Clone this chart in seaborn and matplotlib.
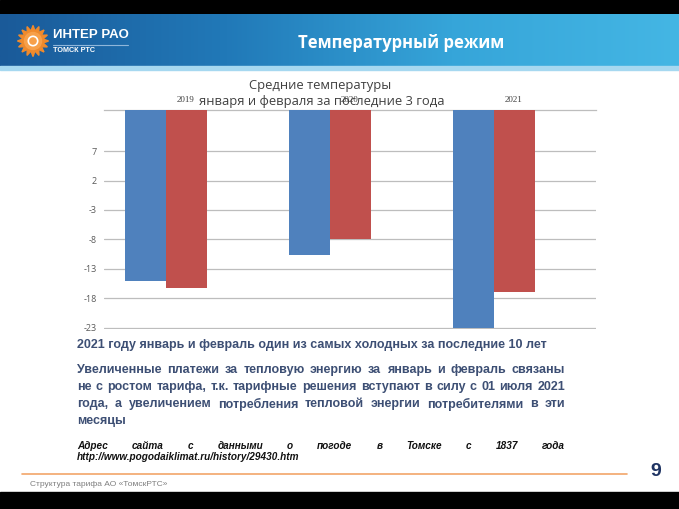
import numpy as np
import pandas as pd
import matplotlib
matplotlib.use("Agg")
import matplotlib.pyplot as plt
from matplotlib.patches import Rectangle, Polygon, Circle
from matplotlib.lines import Line2D
from matplotlib.colors import LinearSegmentedColormap
import seaborn as sns

# ---------------- data ----------------
years = ["2019", "2020", "2021"]
months = ["Январь", "Февраль"]
empty_series = "Ряд 3"          # empty third series of the original chart (reserves a slot)
jan_temps = [-15.1, -10.6, -23.0]
feb_temps = [-16.3, -7.9, -17.0]
y_ticks = [-23, -18, -13, -8, -3, 2, 7]
axis_top = 14.0  # value where the category axis crosses (bars hang from it)

header_title = "Температурный режим"
chart_title = ["Средние температуры", "января и февраля за последние 3 года"]
note_line = "2021 году январь и февраль один из самых холодных за последние 10 лет"
para_lines = [
    "Увеличенные платежи за тепловую энергию за январь и февраль связаны",
    "не с ростом тарифа, т.к. тарифные решения вступают в силу с 01 июля 2021",
    "года, а увеличением потребления тепловой энергии потребителями в эти",
    "месяцы",
]
src_lines = [
    "Адрес сайта с данными о погоде в Томске с 1837 года",
    "http://www.pogodaiklimat.ru/history/29430.htm",
]
footer_text = "Структура тарифа АО «ТомскРТС»"
page_no = "9"

# ---------------- setup ----------------
sns.set_style("white")
plt.rcParams["font.family"] = ["Liberation Sans", "DejaVu Sans"]

W, H = 679, 509
fig = plt.figure(figsize=(W / 100, H / 100), dpi=100)
fig.patch.set_facecolor("white")


def fx(px):
    return px / W


def fy(py):
    return 1 - py / H


# black bars top / bottom
fig.add_artist(Rectangle((0, fy(14)), 1, 14 / H, transform=fig.transFigure,
                         color="black", zorder=0))
fig.add_artist(Rectangle((0, 0), 1, 17 / H, transform=fig.transFigure,
                         color="black", zorder=0))

# header gradient
ax_h = fig.add_axes([0, fy(66), 1, (66 - 14) / H])
cmap = LinearSegmentedColormap.from_list("hdr", ["#1a5a99", "#2179b8", "#36a5d9", "#44b6e4"])
ax_h.imshow(np.linspace(0, 1, 256)[None, :], aspect="auto", cmap=cmap,
            extent=[0, 1, 0, 1])
ax_h.set_axis_off()
fig.add_artist(Rectangle((0, fy(70)), 1, 4 / H, transform=fig.transFigure,
                         color="#a6d8f0", zorder=1))

# logo
ax_l = fig.add_axes([fx(16), fy(59), fx(34), 36 / H])
ax_l.set_xlim(-1.2, 1.2)
ax_l.set_ylim(-1.2, 1.2)
ax_l.set_aspect("equal")
ax_l.set_axis_off()
ang = np.linspace(0, 2 * np.pi, 33)[:-1]
rad = np.where(np.arange(32) % 2 == 0, 1.1, 0.72)
ax_l.add_patch(Polygon(np.c_[rad * np.cos(ang), rad * np.sin(ang)], closed=True,
                       color="#f08a2c"))
ax_l.add_patch(Circle((0, 0), 0.6, color="#f7a04a"))
ax_l.add_patch(Circle((0, 0), 0.33, fill=False, ec="white", lw=1.2))
fig.text(fx(53), fy(35), "ИНТЕР РАО", color="white", fontsize=9.5,
         fontweight="bold", va="center", ha="left")
fig.add_artist(Line2D([fx(53), fx(128)], [fy(45), fy(45)], transform=fig.transFigure,
                      color="#8fb6da", lw=0.8))
fig.text(fx(53), fy(51), "ТОМСК РТС", color="white", fontsize=5.2,
         fontweight="bold", va="center", ha="left")

fig.text(fx(401), fy(43), header_title, color="white", fontsize=12,
         fontweight="bold", va="center", ha="center",
         family=["Open Sans", "DejaVu Sans"])

# ---------------- chart ----------------
df = pd.DataFrame({
    "year": years * 2,
    "month": [months[0]] * len(years) + [months[1]] * len(years),
    "temp": jan_temps + feb_temps,
})

ax = fig.add_axes([fx(104), fy(328.5), fx(596 - 104), (328.5 - 110) / H])
sns.barplot(data=df, x="year", y="temp", hue="month", order=years,
            hue_order=months + [empty_series],
            palette=["#4f81bd", "#c0504d", "#9bbb59"], width=0.75,
            saturation=1, legend=False, ax=ax, linewidth=0, zorder=3)
# bars hang from the crossing value at the top of the value axis
for p in ax.patches:
    v = p.get_y() + p.get_height()
    p.set_y(axis_top)
    p.set_height(v - axis_top)

ax.set_ylim(-23.15, axis_top)
ax.set_xlim(-0.5, len(years) - 0.5)
ax.set_yticks(y_ticks)
ax.set_yticklabels([str(t) for t in y_ticks], fontsize=6.5, color="#595959",
                   family=["Open Sans", "DejaVu Sans"])
ax.grid(axis="y", color="#bdbdbd", lw=0.9, zorder=0)
ax.grid(axis="x", visible=False)
ax.set_axisbelow(True)
for s in ["left", "right", "bottom"]:
    ax.spines[s].set_visible(False)
ax.spines["top"].set_color("#bdbdbd")
ax.spines["top"].set_linewidth(0.9)
ax.xaxis.tick_top()
ax.tick_params(axis="both", length=0)
ax.tick_params(axis="y", pad=5)
ax.tick_params(axis="x", pad=4)
ax.set_xticks(range(len(years)))
ax.set_xticklabels(years, fontsize=6.5, color="#404040",
                   family=["Liberation Serif", "DejaVu Serif"])
ax.set_xlabel("")
ax.set_ylabel("")
ax.patch.set_alpha(0)

fig.text(fx(320), fy(85), chart_title[0], fontsize=9.4, color="#404040",
         ha="center", va="center", family=["Open Sans", "DejaVu Sans"])
fig.text(fx(322), fy(102), chart_title[1], fontsize=9.4, color="#404040",
         ha="center", va="center", family=["Open Sans", "DejaVu Sans"])

# ---------------- text block ----------------
renderer = fig.canvas.get_renderer()


def place_line(text, x0, x1, y, justify, **kw):
    if not justify:
        fig.text(fx(x0), fy(y), text, ha="left", va="center", **kw)
        return
    words = text.split(" ")
    ts = [fig.text(0, fy(y), w, ha="left", va="center", **kw) for w in words]
    widths = [t.get_window_extent(renderer).width for t in ts]
    gap = (x1 - x0 - sum(widths)) / (len(words) - 1)
    x = x0
    for t, w in zip(ts, widths):
        t.set_x(fx(x))
        x += w + gap


body_kw = dict(fontsize=9, fontweight="bold", color="#3d4f74")
place_line(note_line, 77, 553, 345, False, **body_kw)
for i, ln in enumerate(para_lines):
    place_line(ln, 77, 565, 370 + 17 * i, i < len(para_lines) - 1, **body_kw)
src_kw = dict(fontsize=7.2, fontweight="bold", style="italic", color="#111111")
place_line(src_lines[0], 77, 565, 446, True, **src_kw)
place_line(src_lines[1], 77, 565, 457.5, False, **src_kw)

# ---------------- footer ----------------
fig.add_artist(Line2D([fx(22), fx(627)], [fy(474), fy(474)], transform=fig.transFigure,
                      color="#f2a66a", lw=1.2))
fig.text(fx(656), fy(471), page_no, fontsize=14, fontweight="bold",
         color="#1f3463", ha="center", va="center")
fig.text(fx(30), fy(484), footer_text, fontsize=6, color="#7f7f7f",
         ha="left", va="center")

fig.savefig("out.png", dpi=100)
